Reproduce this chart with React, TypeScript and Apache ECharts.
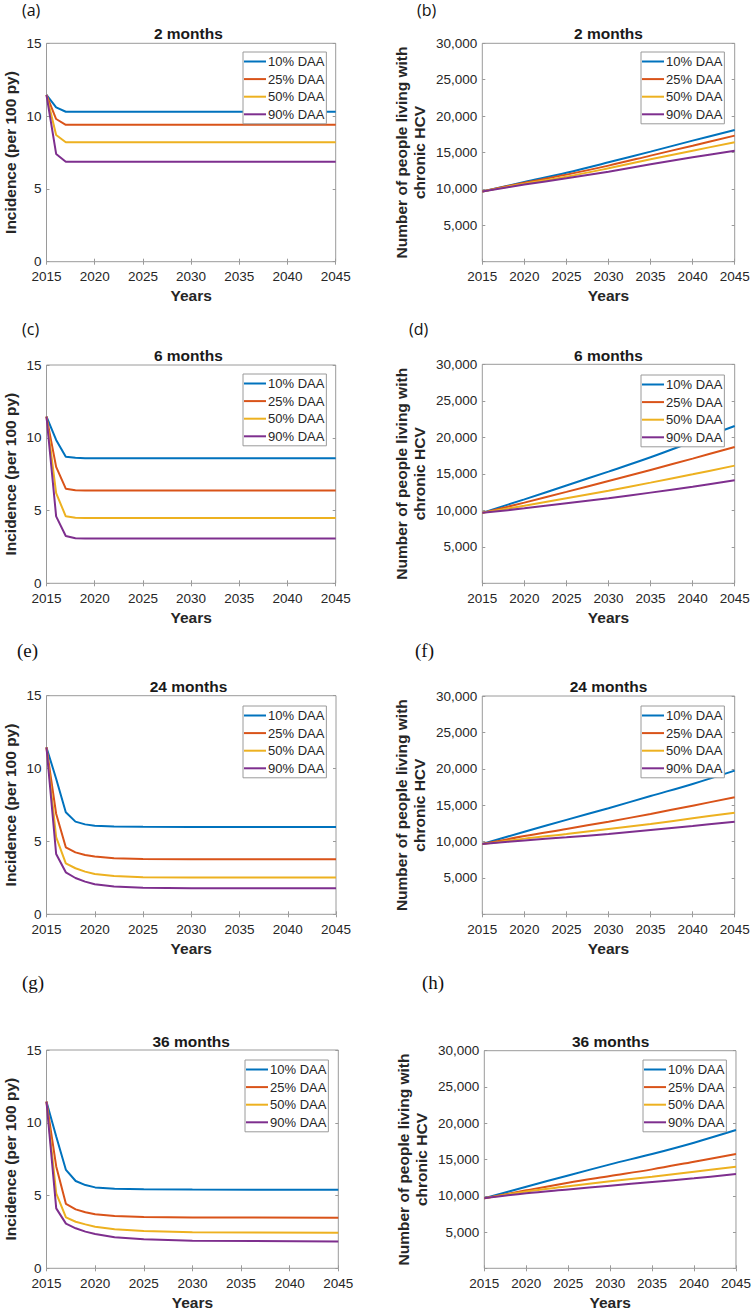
import React, { useEffect, useRef } from 'react';
import * as echarts from 'echarts';

// ---------- data ----------
const SERIES_NAMES = ['10% DAA', '25% DAA', '50% DAA', '90% DAA'];
const PANEL_LETTERS = ['(a)', '(b)', '(c)', '(d)', '(e)', '(f)', '(g)', '(h)'];
const PANEL_TITLES = ['2 months', '2 months', '6 months', '6 months', '24 months', '24 months', '36 months', '36 months'];
const X_TICKS = [2015, 2020, 2025, 2030, 2035, 2040, 2045];
const INC_TICKS = [0, 5, 10, 15];
const NUM_TICKS = [0, 5000, 10000, 15000, 20000, 25000, 30000];

// Incidence (per 100 py) panels
const INC_2M_YEARS = [2015, 2016, 2017, 2045];
const INC_2M_10 = [11.45, 10.6, 10.3, 10.3];
const INC_2M_25 = [11.45, 9.8, 9.4, 9.4];
const INC_2M_50 = [11.45, 8.7, 8.2, 8.2];
const INC_2M_90 = [11.45, 7.4, 6.87, 6.87];

const INC_6M_YEARS = [2015, 2016, 2017, 2018, 2019, 2045];
const INC_6M_10 = [11.45, 9.85, 8.7, 8.63, 8.6, 8.6];
const INC_6M_25 = [11.45, 8.0, 6.5, 6.4, 6.38, 6.38];
const INC_6M_50 = [11.45, 6.2, 4.6, 4.5, 4.49, 4.49];
const INC_6M_90 = [11.45, 4.6, 3.25, 3.1, 3.07, 3.07];

const INC_24M_YEARS = [2015, 2016, 2017, 2018, 2019, 2020, 2022, 2025, 2030, 2045];
const INC_24M_10 = [11.45, 9.3, 7.0, 6.36, 6.17, 6.08, 6.02, 6.0, 5.99, 5.99];
const INC_24M_25 = [11.45, 6.9, 4.6, 4.25, 4.07, 3.96, 3.84, 3.8, 3.78, 3.77];
const INC_24M_50 = [11.45, 5.3, 3.5, 3.16, 2.93, 2.77, 2.63, 2.55, 2.52, 2.52];
const INC_24M_90 = [11.45, 4.14, 2.88, 2.49, 2.24, 2.06, 1.9, 1.83, 1.79, 1.78];

const INC_36M_YEARS = [2015, 2016, 2017, 2018, 2019, 2020, 2022, 2025, 2030, 2045];
const INC_36M_10 = [11.45, 9.05, 6.76, 6.0, 5.72, 5.56, 5.47, 5.43, 5.41, 5.4];
const INC_36M_25 = [11.45, 7.0, 4.42, 4.05, 3.85, 3.71, 3.6, 3.53, 3.49, 3.48];
const INC_36M_50 = [11.45, 5.15, 3.5, 3.2, 3.02, 2.86, 2.68, 2.56, 2.48, 2.45];
const INC_36M_90 = [11.45, 4.12, 3.07, 2.75, 2.52, 2.36, 2.13, 2.0, 1.9, 1.85];

// Number of people living with chronic HCV panels
const NUM_YEARS = [2015, 2020, 2025, 2030, 2035, 2040, 2045];
const NUM_2M_10 = [9650, 10950, 12230, 13650, 15120, 16630, 18090];
const NUM_2M_25 = [9650, 10850, 11960, 13200, 14570, 15940, 17320];
const NUM_2M_50 = [9650, 10720, 11680, 12830, 14060, 15250, 16400];
const NUM_2M_90 = [9650, 10600, 11450, 12370, 13380, 14340, 15250];

const NUM_6M_10 = [9650, 11500, 13400, 15300, 17260, 19400, 21550];
const NUM_6M_25 = [9650, 11050, 12520, 14020, 15530, 17080, 18680];
const NUM_6M_50 = [9650, 10620, 11640, 12690, 13790, 14930, 16120];
const NUM_6M_90 = [9650, 10270, 10960, 11640, 12420, 13240, 14110];

const NUM_24M_10 = [9650, 11350, 12980, 14580, 16260, 17910, 19740];
const NUM_24M_25 = [9650, 10750, 11730, 12730, 13790, 14930, 16080];
const NUM_24M_50 = [9650, 10400, 11040, 11730, 12410, 13190, 13970];
const NUM_24M_90 = [9650, 10150, 10580, 11040, 11590, 12140, 12730];

const NUM_36M_10 = [9650, 11250, 12800, 14330, 15760, 17320, 19060];
const NUM_36M_25 = [9650, 10750, 11800, 12720, 13640, 14700, 15760];
const NUM_36M_50 = [9650, 10600, 11300, 11990, 12630, 13320, 14010];
const NUM_36M_90 = [9650, 10350, 10870, 11390, 11900, 12400, 13000];

const PANEL_DATA: { kind: 'inc' | 'num'; years: number[]; values: number[][] }[] = [
  { kind: 'inc', years: INC_2M_YEARS, values: [INC_2M_10, INC_2M_25, INC_2M_50, INC_2M_90] },
  { kind: 'num', years: NUM_YEARS, values: [NUM_2M_10, NUM_2M_25, NUM_2M_50, NUM_2M_90] },
  { kind: 'inc', years: INC_6M_YEARS, values: [INC_6M_10, INC_6M_25, INC_6M_50, INC_6M_90] },
  { kind: 'num', years: NUM_YEARS, values: [NUM_6M_10, NUM_6M_25, NUM_6M_50, NUM_6M_90] },
  { kind: 'inc', years: INC_24M_YEARS, values: [INC_24M_10, INC_24M_25, INC_24M_50, INC_24M_90] },
  { kind: 'num', years: NUM_YEARS, values: [NUM_24M_10, NUM_24M_25, NUM_24M_50, NUM_24M_90] },
  { kind: 'inc', years: INC_36M_YEARS, values: [INC_36M_10, INC_36M_25, INC_36M_50, INC_36M_90] },
  { kind: 'num', years: NUM_YEARS, values: [NUM_36M_10, NUM_36M_25, NUM_36M_50, NUM_36M_90] },
];

// ---------- layout & style ----------
const COLORS = ['#0072BD', '#D95319', '#EDB120', '#7E2F8E'];
const FONT = "'Liberation Sans', Arial, sans-serif";
const TEXT_COLOR = '#262626';
const BOX_COLOR = '#9a9a9a';

const LAYOUT = [
  { grid: { left: 41, top: 43.3, width: 294.7, height: 218.4 }, legend: { left: 243, top: 52 }, titleY: 33, letter: { x: 22, y: 10, serif: false } },
  { grid: { left: 482.3, top: 43.3, width: 252.4, height: 218.4 }, legend: { left: 641, top: 52 }, titleY: 33, letter: { x: 417, y: 10, serif: false } },
  { grid: { left: 41, top: 365, width: 294.7, height: 218.3 }, legend: { left: 243, top: 374 }, titleY: 355, letter: { x: 22, y: 329, serif: false } },
  { grid: { left: 482.3, top: 364.3, width: 252.4, height: 219 }, legend: { left: 641, top: 375 }, titleY: 355, letter: { x: 409, y: 329, serif: false } },
  { grid: { left: 41, top: 695.7, width: 295, height: 218.6 }, legend: { left: 243, top: 706 }, titleY: 686, letter: { x: 17, y: 650, serif: true } },
  { grid: { left: 482.3, top: 696, width: 252.4, height: 218.3 }, legend: { left: 641, top: 706 }, titleY: 686, letter: { x: 415, y: 650, serif: true } },
  { grid: { left: 44, top: 1050, width: 294.3, height: 218.3 }, legend: { left: 245, top: 1060 }, titleY: 1041, letter: { x: 22, y: 982, serif: true } },
  { grid: { left: 484.3, top: 1050.7, width: 252.7, height: 217.6 }, legend: { left: 643, top: 1060 }, titleY: 1041, letter: { x: 422, y: 982, serif: true } },
];

function buildOption() {
  const grid: any[] = [];
  const xAxis: any[] = [];
  const yAxis: any[] = [];
  const series: any[] = [];
  const legend: any[] = [];
  const graphic: any[] = [];

  PANEL_DATA.forEach((pd, i) => {
    const L = LAYOUT[i];
    grid.push({ ...L.grid, show: true, borderColor: BOX_COLOR, borderWidth: 1, backgroundColor: '#fff' });
    const isInc = pd.kind === 'inc';
    const ticks = isInc ? INC_TICKS : NUM_TICKS;
    const yMin = ticks[0];
    const yMax = ticks[ticks.length - 1];
    const yInt = ticks[1] - ticks[0];
    const tickStyle = { show: true, inside: true, length: 3, lineStyle: { color: BOX_COLOR, width: 1 } };

    xAxis.push({
      type: 'value', gridIndex: i, position: 'bottom', min: X_TICKS[0], max: X_TICKS[X_TICKS.length - 1],
      interval: X_TICKS[1] - X_TICKS[0],
      axisLine: { show: false }, axisTick: tickStyle, splitLine: { show: false },
      axisLabel: { show: true, color: TEXT_COLOR, fontSize: 13.5, fontFamily: FONT, margin: 8, formatter: (v: number) => String(v) },
      name: 'Years', nameLocation: 'middle', nameGap: 26,
      nameTextStyle: { fontSize: 15.5, fontWeight: 'bold', color: TEXT_COLOR, fontFamily: FONT },
    });
    xAxis.push({
      type: 'value', gridIndex: i, position: 'top', min: X_TICKS[0], max: X_TICKS[X_TICKS.length - 1],
      interval: X_TICKS[1] - X_TICKS[0],
      axisLine: { show: false }, axisTick: tickStyle, splitLine: { show: false }, axisLabel: { show: false },
    });
    yAxis.push({
      type: 'value', gridIndex: i, position: 'left', min: yMin, max: yMax, interval: yInt,
      axisLine: { show: false }, axisTick: tickStyle, splitLine: { show: false },
      axisLabel: {
        show: true, color: TEXT_COLOR, fontSize: 13.5, fontFamily: FONT, margin: 5,
        formatter: isInc ? (v: number) => String(v) : (v: number) => (v === 0 ? '' : v.toLocaleString('en-US')),
      },
      name: isInc ? 'Incidence (per 100 py)' : 'Number of people living with\nchronic HCV',
      nameLocation: 'middle', nameGap: isInc ? 27.5 : 54,
      nameTextStyle: { fontSize: 15.5, fontWeight: 'bold', color: TEXT_COLOR, fontFamily: FONT, lineHeight: 18 },
    });
    yAxis.push({
      type: 'value', gridIndex: i, position: 'right', min: yMin, max: yMax, interval: yInt,
      axisLine: { show: false }, axisTick: tickStyle, splitLine: { show: false }, axisLabel: { show: false },
    });

    pd.values.forEach((vals, s) => {
      series.push({
        type: 'line', name: SERIES_NAMES[s], xAxisIndex: 2 * i, yAxisIndex: 2 * i,
        data: pd.years.map((yr, k) => [yr, vals[k]]),
        showSymbol: false, symbol: 'none', smooth: isInc ? false : 0.35,
        lineStyle: { color: COLORS[s], width: 2 }, itemStyle: { color: COLORS[s] },
        z: 2,
      });
    });

    legend.push({
      data: SERIES_NAMES, orient: 'vertical', left: L.legend.left, top: L.legend.top,
      padding: [3, 2, 3, 1], itemGap: 4.6, itemWidth: 22, itemHeight: 2, icon: 'rect',
      backgroundColor: '#fff', borderColor: BOX_COLOR, borderWidth: 1, borderRadius: 0,
      textStyle: { color: TEXT_COLOR, fontSize: 13, fontFamily: FONT, padding: [0, 0, 0, -3] },
      selectedMode: false, z: 10,
    });

    graphic.push({
      type: 'text', x: L.grid.left + L.grid.width / 2, y: L.titleY,
      style: { text: PANEL_TITLES[i], align: 'center', verticalAlign: 'middle', fontSize: 15.5, fontWeight: 'bold', fill: '#1a1a1a', fontFamily: FONT },
    });
    graphic.push({
      type: 'text', x: L.letter.x, y: L.letter.y,
      style: {
        text: PANEL_LETTERS[i], align: 'left', verticalAlign: 'middle',
        fontSize: L.letter.serif ? 19 : 16,
        fill: '#111',
        fontFamily: L.letter.serif ? "'Liberation Serif', 'Times New Roman', serif" : "'Open Sans', 'Noto Sans', sans-serif",
      },
    });
  });

  return { animation: false, backgroundColor: '#fff', grid, xAxis, yAxis, series, legend, graphic };
}

export default function App() {
  const ref = useRef<HTMLDivElement>(null);
  useEffect(() => {
    if (!ref.current) return;
    const chart = echarts.init(ref.current, undefined, { renderer: 'svg' });
    chart.setOption(buildOption() as any);
    return () => chart.dispose();
  }, []);
  return <div ref={ref} style={{ position: 'absolute', left: 0, top: 0, width: 754, height: 1312 }} />;
}
